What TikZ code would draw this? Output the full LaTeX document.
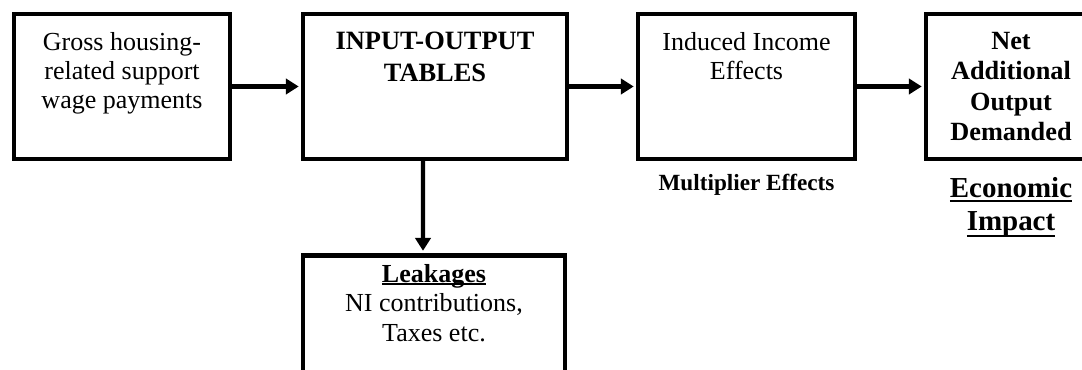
\documentclass[tikz,border=0pt]{standalone}
\usepackage{fontspec}
\setmainfont{Liberation Serif}
\usetikzlibrary{arrows.meta,positioning}
\newcommand{\bodysize}{\fontsize{18.5}{20.6}\selectfont}
\newcommand{\thickul}[2][3pt]{\setbox0\hbox{#2}\rlap{\rule[-#1]{\wd0}{1.3pt}}\box0}

\begin{document}
\begin{tikzpicture}[>={Triangle[length=0.32cm,width=0.38cm]},
  box/.style={draw,line width=3.2pt,inner sep=0pt,minimum height=3.615cm},
  txt/.style={inner sep=0pt,align=center,font=\bodysize},
  flow/.style={->,line width=2.9pt,shorten >=1.6pt}]
  \useasboundingbox (0,0) rectangle (27.05,9.25);
  \clip (0,0) rectangle (27.05,9.25);
  % boxes
  \node[box,minimum width=5.39cm]  (gross) at (3.05,7.0875) {};
  \node[box,minimum width=6.59cm]  (io)    at (10.875,7.0875) {};
  \node[box,minimum width=5.415cm] (inc)   at (18.6625,7.0875) {};
  \node[box,minimum width=4.24cm]  (net)   at (25.275,7.0875) {};
  \node[box,minimum width=6.54cm]  (leak)  at (10.85,1.06) {};
  % box texts
  \node[txt,below=0.5cm of gross.north] (grosstxt)
     {Gross housing-\\related support\\wage payments};
  \node[txt,below=0.5cm of io.north,font=\bfseries\fontsize{18.8}{22.5}\selectfont] (iotxt)
     {INPUT-OUTPUT\\TABLES};
  \node[txt,below=0.5cm of inc.north] (inctxt)
     {Induced Income\\Effects};
  \node[txt,below=0.5cm of net.north,font=\bfseries\fontsize{18.7}{21.7}\selectfont] (nettxt)
     {Net\\Additional\\Output\\Demanded};
  \node[txt,below=0.27cm of leak.north,font=\fontsize{18.5}{21.2}\selectfont] (leaktxt)
     {\textbf{\thickul[2pt]{Leakages}}\\NI contributions,\\Taxes etc.};
  % captions under the boxes
  \node[txt,below=0.33cm of inc,font=\bfseries\fontsize{16.5}{19}\selectfont] (mult)
     {Multiplier Effects};
  \node[txt,below=0.4cm of net,font=\bfseries\fontsize{20.6}{23.4}\selectfont] (impact)
     {\thickul{Economic}\\\thickul[4.5pt]{Impact}};
  % arrows
  \draw[flow] (gross) -- (io);
  \draw[flow] (io) -- (inc);
  \draw[flow] (inc) -- (net);
  \draw[flow] ([xshift=-0.3cm]io.south) -- ([xshift=-0.275cm]leak.north);
\end{tikzpicture}
\end{document}
